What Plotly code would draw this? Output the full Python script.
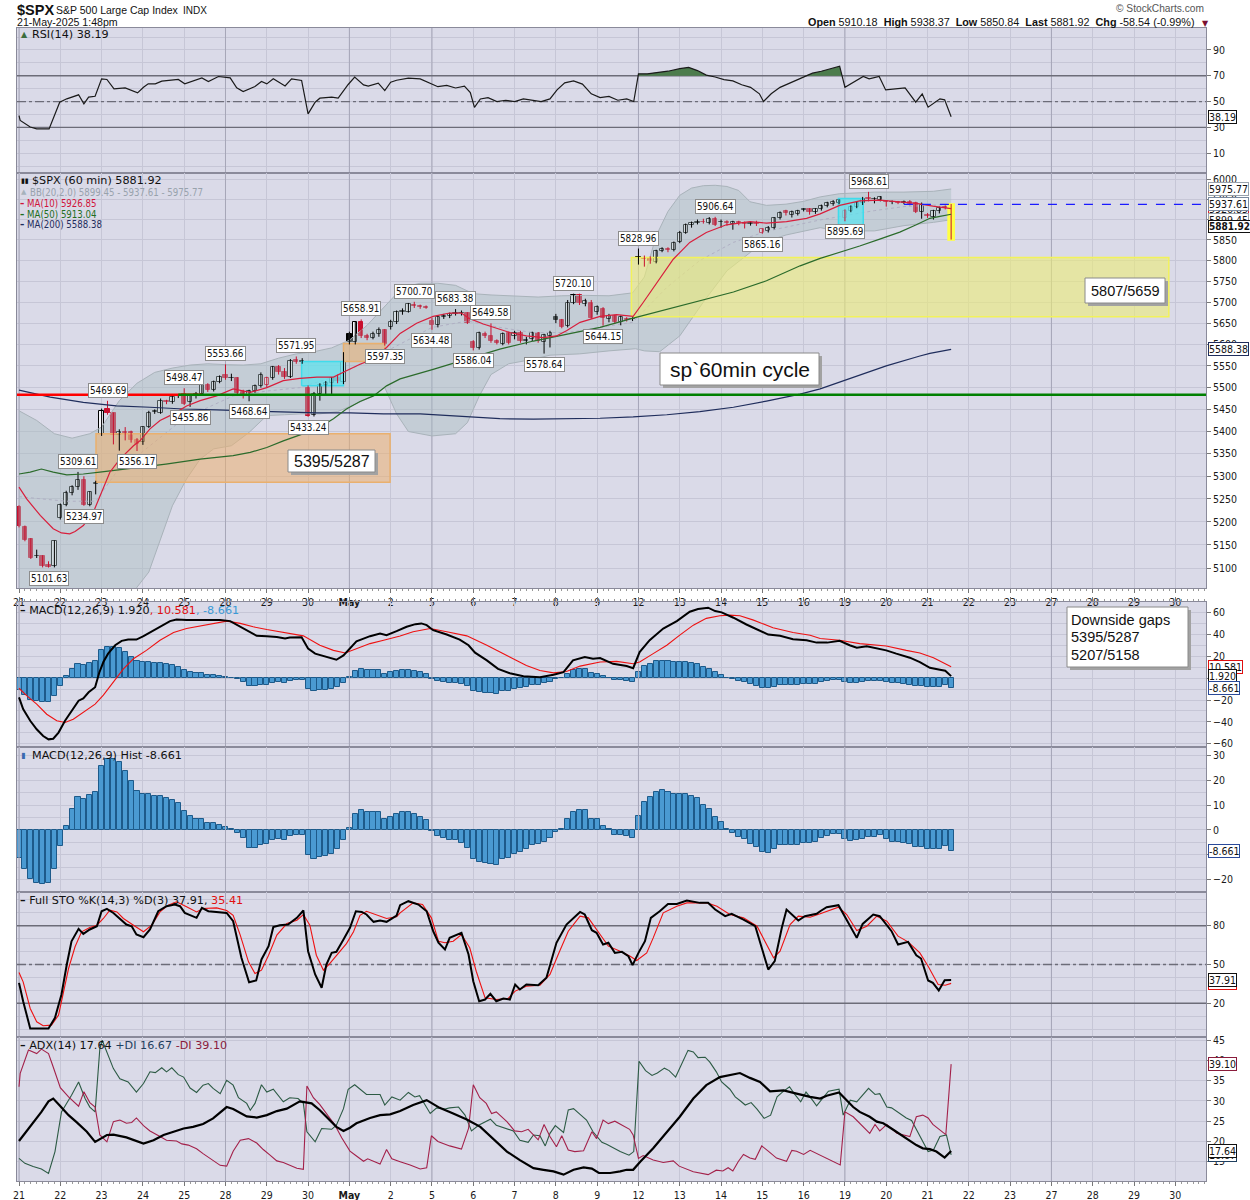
import math
import plotly.graph_objects as go

# ---------------------------------------------------------------- data
day_labels = ["21", "22", "23", "24", "25", "28", "29", "30", "May", "2", "5", "6", "7", "8", "9",
              "12", "13", "14", "15", "16", "19", "20", "21", "22", "23", "27", "28", "29", "30"]
week_start_days = [0, 5, 8, 10, 15, 20, 25]   # indices into day_labels drawn with darker grid
bars_per_day = 7

opens = [5232, 5189, 5163, 5126, 5127, 5108, 5104, 5208, 5236, 5262, 5277, 5292, 5237, 5282,
         5395, 5451, 5441, 5392, 5399, 5398, 5380, 5377, 5411, 5444, 5443, 5470, 5466, 5480,
         5486, 5466, 5480, 5485, 5506, 5494, 5513, 5529, 5521, 5521, 5490, 5483, 5492, 5504,
         5505, 5521, 5547, 5536, 5525, 5564, 5562, 5500, 5437, 5486, 5505, 5510, 5521, 5512,
         5624, 5606, 5652, 5620, 5615, 5624, 5634, 5642, 5652, 5676, 5677, 5694, 5690, 5689,
         5656, 5646, 5665, 5666, 5671, 5673, 5673, 5605, 5592, 5625, 5620, 5608, 5601, 5627,
         5620, 5628, 5609, 5612, 5626, 5606, 5620, 5664, 5658, 5643, 5699, 5718, 5696, 5699,
         5676, 5683, 5660, 5667, 5652, 5661, 5660, 5808, 5806, 5806, 5797, 5824, 5829, 5826,
         5845, 5868, 5886, 5892, 5895, 5892, 5902, 5893, 5895, 5890, 5894, 5892, 5890, 5892,
         5868, 5872, 5880, 5904, 5920, 5912, 5914, 5926, 5926, 5918, 5926, 5934, 5938, 5942,
         5904, 5922, 5932, 5940, 5953, 5950, 5948, 5945, 5943, 5943, 5944, 5944, 5940, 5919,
         5910.18, 5906, 5920, 5930, 5928]
highs = [5236, 5192, 5165, 5140, 5128, 5115, 5160, 5240, 5268, 5280, 5309.61, 5300, 5267, 5290,
         5452, 5469.69, 5443, 5405, 5410, 5402, 5385, 5412, 5447, 5450, 5475, 5472, 5482, 5485,
         5498.47, 5483, 5490, 5508, 5510, 5516, 5528, 5553.66, 5532, 5524, 5495, 5495, 5507, 5535,
         5525, 5550, 5552, 5545, 5566, 5571.95, 5568, 5505, 5490, 5510, 5515, 5524, 5530, 5582,
         5630, 5655, 5658.91, 5625, 5630, 5640, 5636, 5658, 5680, 5685, 5698, 5700.70, 5694, 5692,
         5662, 5668, 5672, 5675, 5683.38, 5680, 5676, 5610, 5630, 5630, 5649.58, 5612, 5628, 5630,
         5632, 5632, 5618, 5630, 5629, 5625, 5632, 5672, 5660, 5705, 5720.10, 5720, 5708, 5705,
         5692, 5688, 5672, 5670, 5668, 5664, 5664, 5828.96, 5812, 5810, 5826, 5832, 5832, 5846,
         5872, 5890, 5895, 5900, 5902, 5906, 5906.64, 5900, 5898, 5897, 5897, 5895, 5896, 5897,
         5878, 5884, 5906, 5920, 5924, 5922, 5924, 5928, 5928, 5928, 5937, 5944, 5948, 5950,
         5925, 5935, 5944, 5956, 5968.61, 5955, 5958, 5948, 5947, 5946, 5947, 5948, 5944, 5942,
         5916, 5924, 5932, 5935, 5938.37]
lows = [5188, 5158, 5120, 5122, 5102, 5101.63, 5102, 5205, 5234, 5258, 5270, 5234.97, 5234, 5260,
        5390, 5438, 5371, 5357, 5380, 5375, 5356.17, 5370, 5408, 5440, 5440, 5462, 5463, 5476,
        5460, 5455.86, 5475, 5482, 5490, 5491, 5510, 5518, 5515, 5485, 5475, 5468.64, 5488, 5500,
        5500, 5518, 5530, 5520, 5522, 5555, 5555, 5433.24, 5434, 5470, 5482, 5485, 5510, 5508,
        5600, 5600, 5615, 5610, 5612, 5618, 5597.35, 5635, 5648, 5670, 5675, 5686, 5684, 5684,
        5634.48, 5640, 5660, 5662, 5668, 5668, 5648, 5586.04, 5588, 5615, 5604, 5600, 5598, 5600,
        5612, 5604, 5600, 5608, 5604, 5578.64, 5593, 5650, 5638, 5640, 5695, 5693, 5690, 5660,
        5670, 5644.15, 5652, 5648, 5645, 5654, 5655, 5790, 5785, 5792, 5793, 5820, 5820, 5822,
        5842, 5865, 5880, 5888, 5890, 5888, 5884, 5880, 5885, 5875, 5886, 5878, 5885, 5884,
        5865.16, 5868, 5876, 5900, 5910, 5905, 5910, 5920, 5912, 5914, 5922, 5930, 5934, 5938,
        5895.69, 5918, 5928, 5936, 5945, 5940, 5945, 5932, 5938, 5938, 5938, 5935, 5916, 5902,
        5904, 5900, 5915, 5925, 5850.84]
closes = [5192, 5160, 5122, 5127, 5104, 5103, 5158, 5237, 5262, 5277, 5292, 5237, 5265, 5285,
          5447, 5441, 5392, 5398, 5397, 5380, 5373, 5411, 5443, 5446, 5470, 5468, 5478, 5482,
          5462, 5480, 5485, 5506, 5494, 5513, 5524, 5521, 5523, 5488, 5482, 5492, 5504, 5529,
          5521, 5547, 5535, 5524, 5562, 5558, 5560, 5436, 5486, 5507, 5511, 5521, 5515, 5560,
          5606, 5652, 5620, 5615, 5624, 5633, 5600, 5653, 5677, 5678, 5695, 5690, 5688, 5687,
          5645, 5665, 5668, 5671, 5673, 5674, 5651, 5592, 5626, 5620, 5607, 5603, 5625, 5604,
          5628, 5608, 5611, 5626, 5608, 5622, 5626, 5658, 5642, 5699, 5718, 5697, 5702, 5663,
          5688, 5662, 5667, 5652, 5664, 5658, 5659, 5805, 5804, 5798, 5824, 5827, 5825, 5843,
          5868, 5886, 5892, 5894, 5893, 5902, 5886, 5895, 5892, 5894, 5891, 5890, 5892, 5889,
          5876, 5880, 5904, 5917, 5915, 5918, 5920, 5924, 5918, 5925, 5934, 5940, 5944, 5948,
          5922, 5932, 5940, 5952, 5950, 5951, 5955, 5943, 5944, 5942, 5942, 5938, 5918, 5937,
          5909, 5920, 5929, 5928, 5881.92]

ma10_pts = [(0, 5276), (1.3, 5250), (3.6, 5214), (5.8, 5185), (7.2, 5176), (8.6, 5174), (9.5, 5179),
            (10.9, 5192), (12.6, 5221), (13.7, 5257), (15.4, 5309), (17.1, 5338), (19.4, 5368),
            (20.5, 5379), (22.2, 5406), (23.9, 5425), (26.2, 5440), (28.4, 5458), (30.7, 5470),
            (33.5, 5481), (36.3, 5497), (39.2, 5489), (42.0, 5500), (44.8, 5516), (47.6, 5521),
            (50.5, 5524), (53.3, 5524), (55.5, 5539), (57.8, 5554), (60.1, 5566), (62.3, 5593),
            (64.6, 5626), (67.4, 5650), (70.2, 5666), (73.0, 5674), (75.0, 5674), (76.2, 5662),
            (78.7, 5648), (81.5, 5636), (83.2, 5628), (86.0, 5620), (88.9, 5616), (91.1, 5620),
            (92.8, 5632), (95.1, 5652), (98.5, 5666), (101.3, 5670), (104.1, 5666), (105.8, 5699),
            (108.1, 5747), (110.9, 5803), (113.7, 5844), (116.5, 5868), (119.9, 5887), (123.9, 5895),
            (126.7, 5891), (130.1, 5895), (133.5, 5903), (135.8, 5914), (139.1, 5935), (142.5, 5946),
            (145.9, 5948), (149.3, 5944), (152.1, 5940), (154.9, 5933), (158.0, 5926.85)]
ma50_pts = [(0, 5305), (1.9, 5309), (3.8, 5316), (5.8, 5309), (8.1, 5303), (10.9, 5305), (13.7, 5309),
            (19.4, 5318), (24.9, 5327), (30.7, 5338), (36.3, 5346), (39.2, 5353), (42.0, 5364),
            (44.8, 5379), (47.6, 5392), (50.5, 5406), (53.3, 5429), (55.5, 5451), (57.8, 5468),
            (60.1, 5481), (62.3, 5504), (64.6, 5520), (70.2, 5542), (75.9, 5566), (81.5, 5589),
            (87.2, 5608), (92.8, 5624), (98.5, 5640), (104.1, 5662), (109.8, 5683), (115.4, 5703),
            (121.1, 5724), (126.7, 5751), (132.4, 5787), (135.8, 5805), (139.1, 5819), (142.5, 5835),
            (145.9, 5852), (149.3, 5869), (152.1, 5887), (154.4, 5903), (156.1, 5908), (158.0, 5913.04)]
ma200_pts = [(0, 5494), (5.3, 5478), (10.9, 5466), (16.5, 5458), (22.2, 5455), (27.9, 5451), (33.5, 5449),
             (39.2, 5447), (44.8, 5445), (50.5, 5442), (56.1, 5442), (61.8, 5440), (68, 5440),
             (75.9, 5433), (81.5, 5429), (87.2, 5428), (92.8, 5429), (98.5, 5430), (104.1, 5433),
             (109.8, 5438), (115.4, 5445), (121.1, 5455), (126.7, 5469), (132.4, 5485), (135.8, 5497),
             (141.4, 5524), (147.0, 5550), (152.7, 5573), (154.4, 5579), (158.0, 5588.38)]
bb_up_pts = [(0, 5447), (3, 5425), (6, 5395), (9, 5385), (12, 5395), (14, 5410), (17, 5470), (20, 5510),
             (23, 5535), (26, 5545), (29, 5552), (32, 5555), (35, 5553), (38, 5552), (41, 5555),
             (44, 5568), (47, 5578), (50, 5583), (53, 5592), (56, 5610), (59, 5645), (62, 5690),
             (65, 5735), (68, 5745), (71, 5745), (74, 5740), (77, 5720), (80, 5717), (84, 5715),
             (88, 5712), (92, 5715), (96, 5716), (100, 5715), (104, 5722), (106, 5760), (108, 5860),
             (110, 5920), (112, 5960), (114, 5978), (116, 5984), (118, 5985), (120, 5982), (122, 5972),
             (123.9, 5944), (126.7, 5935), (130, 5938), (133, 5945), (135.8, 5956), (139.1, 5964),
             (145, 5968), (150, 5968), (155, 5970), (158, 5975.77)]
bb_lo_pts = [(0, 5000), (10, 5000), (18, 5010), (20, 5060), (22, 5092), (24, 5163), (26, 5235),
             (28.4, 5294), (30.7, 5338), (33, 5361), (36, 5368), (39, 5398), (42, 5436), (45, 5438),
             (48, 5440), (51, 5440), (54, 5445), (57, 5462), (60, 5481), (62, 5500), (64, 5440),
             (66, 5400), (70, 5390), (74, 5395), (76, 5420), (78, 5480), (80, 5530), (83, 5555),
             (87, 5565), (90, 5575), (95, 5578), (100, 5585), (104.5, 5590), (106, 5585), (108.6, 5583),
             (112, 5620), (116, 5700), (120, 5775), (124, 5820), (127, 5848), (130, 5862), (135.8, 5880),
             (139.1, 5872), (145, 5872), (150, 5885), (155, 5893), (158, 5899.45)]
bb_mid_pts = [(0, 5255), (8, 5245), (13, 5245), (16.5, 5309), (22.2, 5368), (27.9, 5429), (36.3, 5481),
              (42, 5492), (47.6, 5500), (53.3, 5524), (58.9, 5560), (64.6, 5600), (70, 5640), (76, 5655),
              (81.5, 5640), (87, 5628), (93, 5628), (98.5, 5640), (104, 5652), (109.8, 5735),
              (115.4, 5800), (121.1, 5844), (126.7, 5871), (135.8, 5899), (145, 5922), (150, 5932),
              (158, 5937.61)]

rsi_pts = [(0, 39.1), (0.2, 35.3), (1.9, 30.2), (3.0, 28.8), (4.1, 28.8), (5.1, 28.8), (6.9, 49.5),
           (8.1, 52.1), (10.1, 55.2), (11.0, 48.2), (11.8, 53.4), (12.9, 54.1), (14.0, 67.6), (14.9, 67.1),
           (16.1, 59.8), (18.0, 60.6), (20.1, 56.7), (21.1, 61.1), (21.9, 63.7), (23.1, 63.7), (24.2, 65.8),
           (25.6, 66.3), (27.0, 67.1), (28.1, 63.7), (29.5, 65.8), (31.0, 68.3), (32.1, 65.5), (33.8, 69.4),
           (35.8, 68.3), (36.9, 60.6), (38.0, 57.8), (40.0, 61.6), (41.1, 65.5), (42.0, 63.7), (43.1, 67.6),
           (45.1, 62.1), (46.2, 67.6), (47.9, 66.3), (49.0, 40.4), (50.2, 49.5), (51.0, 52.6), (53.0, 53.4),
           (54.1, 52.6), (55.8, 63.2), (56.9, 68.9), (58.4, 62.9), (59.2, 61.9), (60.9, 64.2), (62.0, 58.5),
           (63.0, 65.0), (64.0, 66.5), (66.0, 68.1), (68.0, 67.6), (69.5, 64.5), (71, 61.5), (72.5, 62.5),
           (74, 60.5), (75.5, 62), (76.5, 57), (77.2, 45.5), (78.2, 52), (79.5, 53), (81, 50), (82.5, 51),
           (84, 50), (85.5, 52), (87, 51), (88.5, 50), (90, 52), (91.2, 59), (92.5, 64.5), (94, 66),
           (95.5, 63.5), (97, 56), (98.5, 53), (100, 54), (101.5, 51), (103, 52), (104.2, 50), (105, 71.5),
           (106.5, 71.5), (108, 72.5), (110, 73.5), (112, 75.5), (113.5, 76.5), (115, 74), (116.5, 70.5),
           (118, 69), (119.5, 67), (121, 66), (122.5, 63), (124, 61), (125.5, 56), (126.2, 50),
           (127.5, 56), (129, 61), (130.5, 64), (132, 67), (133.2, 70), (134.5, 72), (136, 73.5),
           (137.5, 75.3), (139.1, 77.4), (140.0, 61.1), (143.1, 69.4), (144.1, 67.6), (145.8, 69.4),
           (146.9, 59.0), (150.2, 60.6), (152.0, 49.5), (153.1, 55.9), (154.1, 45.6), (156.1, 52.1),
           (156.9, 51.3), (158.0, 38.19)]

macd_pts = [(0, -17.5), (0.7, -28.3), (1.9, -39), (3.0, -46.8), (4.1, -52.9), (5.0, -56), (5.8, -55.4),
            (6.7, -49.8), (7.8, -39), (8.9, -29.8), (10.1, -20.6), (10.9, -18.5), (11.8, -12.9),
            (12.9, -8.3), (13.6, 5), (14.3, 14.8), (15.1, 22.5), (16.3, 30.2), (17.4, 34.2), (18.5, 35.4),
            (19.9, 35.4), (21.1, 38.5), (22.8, 44), (24.5, 49.2), (25.6, 52.3), (26.7, 53.8), (28.4, 53.2),
            (30.7, 53.2), (32.4, 53.2), (34.1, 53.2), (35.8, 52.3), (37.5, 47.1), (38.9, 42.5), (40.3, 38.8),
            (42.0, 38.5), (43.7, 37.8), (45.1, 36.3), (45.9, 37.2), (47.9, 37.5), (49.0, 27.1), (50.2, 22.5),
            (51.6, 20.3), (52.7, 18.8), (53.8, 16.9), (55.0, 20.9), (55.8, 25.5), (57.2, 33.8), (58.4, 36.3),
            (59.5, 38.5), (61.2, 40.9), (62.3, 39.4), (64.0, 43.1), (65.7, 47.1), (67.2, 49.5), (68.2, 50.2),
            (69.1, 48.6), (70.2, 44), (72.5, 40), (74.7, 35.4), (76.2, 30.2), (77.3, 23.4), (79.3, 16.3),
            (81.2, 8.6), (83.2, 4.6), (85.5, 1.8), (88.3, 0.9), (90.6, 3.1), (92.3, 5.5), (93.9, 16.3),
            (95.9, 19.4), (97.3, 17.8), (98.5, 18.5), (100.7, 13.2), (103.0, 11.1), (104.1, 9.2),
            (105.2, 24), (106.9, 34.8), (109.2, 45.5), (111.5, 52.3), (113.7, 60.9), (115.1, 63.4),
            (116.8, 64.6), (118.0, 61.5), (119.1, 60.3), (121.1, 55.4), (123.3, 49.2), (125.6, 43.1),
            (127.0, 40), (129.0, 38.8), (131.2, 35.7), (133.5, 34.8), (135.2, 32.6), (137.0, 32.6),
            (138.0, 33.2), (139.1, 34.2), (140.8, 30.2), (142.0, 28), (143.7, 29.2), (145.4, 27.1),
            (147.0, 25.5), (148.7, 22.5), (151.0, 18.8), (152.7, 14.8), (154.4, 9.5), (156.1, 7.7),
            (157.0, 6.8), (158.0, 1.92)]
signal_pts = [(0, -9.2), (1.3, -16), (3.0, -23.7), (4.7, -33), (6.4, -39), (7.8, -40.6), (9.2, -37.5),
              (10.9, -31.4), (12.9, -23.7), (14.3, -15.4), (16.0, -3.7), (17.7, 8.6), (19.4, 17.8),
              (21.6, 25.5), (23.9, 34.8), (26.2, 41.8), (28.4, 45.5), (30.7, 48), (32.9, 50.2), (35.2, 52.3),
              (37.5, 50.2), (39.7, 47.1), (42.0, 44.6), (44.2, 42.5), (46.5, 40), (48.2, 38.8), (51.0, 30.2),
              (53.3, 25.5), (55.3, 23.1), (57.2, 27.1), (59.5, 31.7), (61.8, 34.8), (64.6, 38.6),
              (66.8, 42.5), (69.7, 45.5), (72.5, 42.5), (75.9, 38.8), (79.3, 30.2), (82.7, 20.9),
              (86.0, 11.7), (88.3, 7.1), (90.6, 4.9), (92.8, 6.2), (95.1, 11.1), (98.5, 14.8), (101.3, 15.4),
              (104.1, 13.2), (105.2, 14.8), (107.5, 22.5), (109.8, 30.2), (112.0, 39.4), (114.3, 48.6),
              (116.5, 54.8), (118.8, 57.2), (120.5, 57.8), (122.2, 57.2), (124.5, 53.2), (127.8, 46.2),
              (131.2, 41.8), (134.1, 39.4), (135.8, 36.3), (139.1, 34.8), (142.5, 31.7), (147.0, 29.5),
              (150.4, 25.5), (152.7, 23.1), (155.0, 18.8), (158.0, 10.581)]
hist_vals = [-11.2, -15.7, -20.0, -21.3, -22.0, -21.6, -15.9, -6.7, 1.6, 8.4,
             13.1, 12.4, 14.2, 15.5, 25.9, 28.6, 28.6, 27.3, 23.9, 19.8,
             15.8, 14.4, 14.4, 13.5, 13.8, 12.8, 12.0, 10.7, 7.7, 5.7,
             4.6, 4.6, 2.6, 2.6, 2.0, 1.2, 0.3, -1.1, -3.1, -7.2,
             -7.2, -6.2, -5.8, -4.0, -3.5, -4.0, -2.4, -2.0, -2.0, -10.3,
             -11.6, -10.9, -10.5, -9.9, -7.8, -4.0, 0.9, 6.6, 8.0, 7.4,
             7.2, 7.2, 4.3, 5.3, 6.6, 7.2, 7.4, 6.6, 5.4, 3.9,
             -0.4, -2.4, -3.4, -4.0, -4.0, -5.1, -7.2, -11.9, -13.0, -13.5,
             -13.6, -14.0, -11.9, -11.3, -9.6, -8.9, -7.8, -6.2, -5.9, -4.7,
             -3.2, -0.7, 0.3, 4.3, 7.4, 8.0, 8.0, 4.6, 4.3, 1.6,
             0.5, -1.9, -1.9, -2.4, -3.1, 5.7, 11.1, 13.1, 15.5, 16.1,
             15.5, 14.7, 14.7, 14.7, 13.8, 12.7, 10.1, 8.6, 5.4, 3.0,
             0.5, -1.1, -2.7, -3.5, -5.5, -6.9, -8.9, -9.2, -7.6, -6.2,
             -6.1, -6.1, -6.1, -5.1, -5.1, -4.9, -3.1, -2.4, -1.8, -1.8,
             -3.8, -4.5, -4.0, -3.5, -2.7, -2.7, -2.2, -3.5, -4.7, -4.7,
             -5.1, -5.8, -6.9, -6.9, -7.8, -7.8, -7.6, -6.5, -8.661]

stok_pts = [(0, 35.8), (0.7, 21.6), (1.9, 0.5), (3.0, 0.5), (5.0, 0.5), (6.1, 8.8), (7.2, 26.8), (8.1, 50),
            (8.9, 68), (10.1, 77.6), (10.9, 73.7), (12.0, 77.1), (13.2, 79.6), (14.0, 91.2), (14.9, 93),
            (16.0, 89.9), (17.1, 85.6), (18.2, 80.9), (19.1, 79.6), (19.9, 73.2), (21.1, 71.1), (22.2, 77.1),
            (23.6, 91.2), (25.0, 95.1), (26.4, 96.4), (27.3, 95.1), (28.1, 89.9), (30.1, 86.1), (31.0, 93.8),
            (32.1, 91.2), (35.2, 89.9), (36.3, 83.5), (37.7, 55.2), (39.0, 36.3), (40.2, 37.6), (41.1, 53.9),
            (42.3, 64.2), (43.1, 78.9), (44.2, 80.4), (45.6, 80.9), (47.1, 86.1), (48.2, 91.8), (49.0, 60.3),
            (50.2, 42.3), (51.3, 32), (52.1, 50), (53.0, 59), (53.8, 59.8), (55.0, 69.3), (56.1, 78.4),
            (57.1, 91.2), (58.1, 90.7), (58.9, 88.7), (60.1, 83), (61.2, 84), (62.3, 83), (64.0, 87.9),
            (64.6, 95.9), (66.0, 99), (67.7, 96.4), (69.1, 91.2), (70.2, 75.8), (71.1, 66.8), (72.2, 61.6),
            (73.0, 70.6), (75.0, 74.5), (76.2, 57.7), (77.0, 37.1), (78.0, 21.6), (79.0, 22.9), (79.9, 27.3),
            (80.9, 21.6), (82.1, 23.7), (83.2, 22.9), (84.1, 34.5), (84.9, 30.7), (86.0, 34.5), (88.0, 34),
            (89.4, 39.7), (91.1, 66.8), (92.8, 80.9), (95.1, 90.7), (95.9, 88.7), (97.1, 76.5), (97.9, 74.5),
            (99.0, 65.5), (99.9, 66.8), (101.0, 59), (102.2, 59.8), (103.3, 56.4), (104.0, 49.5), (105.0, 59),
            (106.1, 68), (107.1, 86.1), (108.6, 91.2), (110.0, 96.9), (111.5, 96.9), (113.2, 99.5),
            (115.4, 97.7), (116.8, 97.7), (118.0, 92.5), (119.7, 87.4), (120.8, 89.2), (122.8, 84.8),
            (124.8, 79.6), (126.0, 61.6), (127.0, 46.1), (128.1, 52.6), (129.3, 78.4), (130.1, 92.5),
            (132.1, 84), (133.2, 87.4), (135.2, 89.2), (135.8, 91.2), (136.9, 94.3), (138.9, 95.9),
            (140.3, 84.8), (142.0, 70.6), (143.0, 81.4), (144.8, 88.7), (145.9, 87.4), (147.9, 75.8),
            (149.0, 65.5), (150.7, 67.5), (152.1, 57.2), (152.9, 54.6), (154.1, 37.6), (154.9, 35.8),
            (155.9, 29.9), (156.9, 37.9), (158.0, 37.91)]
stod_pts = [(0, 43.8), (0.7, 36.6), (1.9, 16), (3.0, 5.7), (4.1, 2.6), (5.5, 3.1), (6.7, 10.8), (7.5, 28.9),
            (8.4, 46.9), (9.5, 63.7), (10.6, 75.3), (12.0, 78.6), (13.2, 80.4), (14.3, 85.6), (15.4, 92),
            (16.6, 90.7), (17.7, 85.6), (19.4, 80.4), (21.1, 75.3), (22.5, 80.4), (23.9, 90.7), (25.3, 95.9),
            (26.7, 98.5), (28.4, 94.6), (30.1, 90.7), (31.2, 93.3), (33.5, 93.8), (35.2, 91.8), (36.3, 88),
            (37.5, 72.7), (38.9, 52.1), (40.0, 43.1), (41.1, 45.6), (42.3, 57.2), (43.7, 72.7), (45.4, 81.7),
            (47.1, 84.3), (48.2, 88.7), (49.3, 80.4), (50.4, 57.2), (51.6, 45.6), (52.7, 50.8), (53.8, 57.2),
            (55.5, 66.2), (56.7, 75.3), (57.8, 88.1), (58.9, 91.2), (60.6, 88.1), (62.3, 85.6), (64.0, 86.9),
            (64.6, 90), (66.8, 97.7), (68.4, 96.4), (69.9, 86.1), (71.1, 68), (72.2, 66.8), (73.6, 68),
            (75.0, 73.2), (76.4, 62.9), (77.5, 44.8), (79.0, 24.2), (80.9, 22.9), (82.9, 23.7), (84.1, 29.4),
            (86.0, 33.2), (88.3, 34), (90.0, 42.3), (91.4, 57.7), (93.1, 75.8), (95.1, 87.4), (96.5, 86.1),
            (98.5, 73.2), (99.9, 64.2), (101.9, 60.3), (103.6, 56.4), (104.7, 53.1), (106.4, 59), (107.5, 70.6),
            (109.2, 90), (111.5, 95.1), (113.2, 97.7), (116.6, 97.7), (118.3, 95.1), (120.5, 88.7),
            (122.8, 86.1), (125.1, 79.6), (126.5, 66.8), (127.9, 55.2), (129.0, 60.3), (130.7, 80.9),
            (132.1, 87.4), (134.1, 86.6), (135.8, 89.2), (138.9, 94.3), (140.3, 88.7), (142.0, 76.3),
            (143.7, 79.6), (145.4, 87.4), (147.1, 83.5), (149.0, 71.9), (150.7, 67.5), (152.7, 59),
            (154.1, 48.7), (155.8, 34.5), (157.0, 34), (158.0, 35.41)]

adx_pts = [(0, 20.1), (1.0, 22), (2.4, 24.9), (3.8, 27.3), (5.0, 29.9), (5.8, 30.6), (6.9, 28.9), (8.4, 26.5),
           (9.8, 24.7), (11.5, 22.4), (12.9, 19.9), (13.7, 20.6), (14.9, 21.6), (16.0, 21.7), (18.2, 21),
           (21.1, 19.5), (22.8, 20.3), (24.5, 21.6), (26.2, 22.4), (27.9, 23.2), (29.5, 23.6), (31.2, 24.3),
           (32.9, 25.7), (35.2, 28.5), (36.3, 28), (38.6, 26.2), (40.3, 25.9), (42.0, 26.5), (43.7, 27.5),
           (45.4, 28.1), (47.6, 29.9), (49.6, 29.4), (51.0, 27.7), (52.4, 25.7), (53.8, 23.6), (55.0, 22.6),
           (56.1, 23.4), (57.2, 24.5), (58.4, 25.2), (59.5, 25.8), (61.2, 26.5), (62.9, 26.7), (64.6, 27.5),
           (66.8, 29), (69.1, 30.2), (71.3, 28.3), (73.6, 26.9), (75.9, 25.4), (78.2, 23.6), (80.4, 20.7),
           (82.7, 17.5), (84.9, 15.4), (87.2, 13.4), (88.9, 13), (90.6, 12.6), (92.3, 11.8), (94.0, 13),
           (95.7, 13.6), (97.1, 13.3), (98.3, 12.2), (100.2, 12.2), (101.9, 12.6), (103.0, 13), (104.1, 13),
           (105.3, 15), (107.5, 18.3), (109.8, 22.2), (112.0, 26.1), (114.3, 30.6), (116.5, 33.9),
           (118.8, 35.9), (121.1, 36.7), (122.2, 36.9), (123.9, 35.7), (125.6, 34.7), (127.3, 32.4),
           (129.6, 32.6), (131.8, 31.8), (134.1, 31), (135.8, 30.6), (136.9, 31.3), (139.0, 32.1),
           (140.0, 30.6), (141.4, 28.5), (142.5, 27.3), (144.2, 26.1), (145.4, 24.9), (146.5, 24.5),
           (148.2, 22.9), (150.4, 20.7), (152.1, 19.1), (153.2, 18.3), (154.4, 18.1), (155.5, 17.5),
           (156.9, 16), (158.0, 17.64)]
pdi_pts = [(0, 15.8), (1.0, 14.6), (2.4, 13.8), (3.8, 13.2), (5.0, 12.1), (6.1, 17.5), (7.2, 27.3), (8.9, 31.4),
           (10.1, 34.7), (11.2, 30.6), (12.0, 28.5), (12.9, 27.3), (13.7, 42.9), (14.1, 45), (16.0, 38),
           (17.1, 35.5), (18.5, 34.7), (19.9, 32.2), (21.1, 34.3), (22.2, 37.2), (23.1, 37), (24.2, 38.2),
           (25.0, 37.2), (25.9, 38.2), (27.0, 36.5), (27.9, 35.9), (29.0, 33.2), (30.1, 32.1), (31.2, 33.9),
           (32.1, 34.3), (32.9, 33.1), (34.1, 31.8), (35.2, 35.1), (36.3, 33.9), (37.2, 30.8), (38.6, 29.4),
           (39.2, 27.7), (40.0, 29.4), (41.1, 34), (42.0, 32.2), (43.1, 32.9), (44.8, 29.8), (45.9, 30.8),
           (47.3, 30.6), (48.2, 29.4), (48.8, 22.4), (50.2, 19.9), (51.3, 23.2), (53.0, 23), (53.8, 24),
           (55.0, 28.1), (55.8, 32.9), (56.9, 34), (58.9, 31.6), (61.2, 31.6), (62.0, 29), (63.2, 31),
           (64.6, 30.2), (66.0, 32.1), (67.1, 31), (67.9, 31.3), (69.7, 26.9), (70.8, 28.3), (72.2, 28),
           (73.0, 28.3), (74.5, 28.5), (75.6, 26.5), (76.7, 22.6), (77.9, 24), (79.9, 25.5), (80.9, 24),
           (82.7, 23.2), (83.8, 22.6), (84.9, 20.3), (86.3, 19.8), (87.2, 21.6), (88.3, 21.4), (89.2, 18.9),
           (90.0, 22), (90.9, 23.9), (92.3, 22.2), (93.1, 27.8), (94.0, 28.1), (95.1, 26.7), (96.2, 25.3),
           (97.3, 22.4), (98.8, 19.8), (99.6, 19.3), (101.9, 17.5), (103.4, 16.6), (104.2, 17.5),
           (105.1, 39.8), (106.2, 37.5), (107.3, 36.3), (108.2, 36.9), (109.4, 38.1), (110.2, 37.5),
           (111.3, 35.9), (112.2, 38.8), (113.4, 42.5), (114.3, 42.1), (115.1, 40.7), (116.3, 40.8),
           (117.1, 39.6), (118.2, 37.2), (119.1, 34.7), (120.5, 32.9), (121.4, 31), (122.3, 30), (123.1, 29),
           (124.1, 29.6), (125.1, 28), (126.3, 25.7), (127.4, 26.5), (128.5, 31), (129.4, 32.2),
           (130.6, 33.5), (131.4, 31.8), (132.5, 29.8), (133.4, 32.2), (134.5, 30.2), (135.2, 28.8),
           (135.8, 29.9), (137.2, 32.4), (139.0, 32.9), (139.7, 26.5), (140.9, 30.2), (142.0, 29.8),
           (144.0, 33.1), (145.1, 31.6), (145.9, 31.8), (147.1, 28.5), (147.9, 28.3), (150.4, 25.8),
           (151.3, 25.2), (152.7, 21.3), (154.1, 17.5), (155.0, 17.9), (156.1, 21.2), (157.2, 21.6),
           (158.0, 16.67)]
mdi_pts = [(0, 33.5), (0.2, 36.8), (1.6, 42.6), (3.0, 41.7), (3.8, 42.8), (5.0, 41.7), (5.8, 38.4), (7.0, 33.3),
           (8.4, 31), (10.1, 28.7), (11.0, 32.3), (12.0, 29.6), (12.9, 28.5), (13.7, 21.6), (14.9, 19.9),
           (16.0, 24.9), (17.1, 25.3), (18.2, 24.5), (19.1, 24.7), (19.9, 25.8), (21.1, 23.9), (22.2, 22.6),
           (23.9, 21.2), (25.0, 20.3), (26.7, 20.1), (27.6, 19.4), (28.7, 19.1), (30.1, 18.2), (31.2, 17),
           (32.9, 15.2), (34.1, 14.1), (35.2, 13.9), (36.3, 17.6), (37.5, 20.3), (38.9, 20.7), (40.3, 19.6),
           (41.4, 18), (42.5, 16.7), (43.7, 15.2), (44.8, 14.8), (45.9, 14.2), (47.1, 13.4), (48.2, 13.1),
           (48.8, 33.7), (49.9, 30.8), (51.0, 29.1), (52.4, 26.3), (53.5, 24.2), (54.7, 20.9), (56.1, 17.6),
           (57.2, 16.4), (58.4, 15.1), (59.1, 15.7), (61.2, 14.4), (62.3, 18), (63.2, 15.7), (64.6, 15),
           (66.3, 14.2), (68.0, 13.2), (69.1, 13.5), (69.9, 21.4), (71.0, 20), (73.0, 18.9), (75.0, 18.1),
           (76.2, 23.2), (77.0, 34), (78.1, 30.8), (79.2, 29.4), (80.1, 26.9), (80.9, 27.3), (82.7, 24.9),
           (84.0, 22.6), (85.2, 22.4), (86.3, 23), (88.0, 20.4), (89.0, 24.2), (90.0, 21.2), (91.1, 18.7),
           (92.0, 21.4), (93.1, 17.9), (94.2, 17.5), (95.7, 17.7), (97.1, 22.4), (97.9, 20.7), (99.0, 25.3),
           (99.9, 24.4), (101.0, 25), (102.2, 24), (103.5, 23), (104.1, 21.6), (105.0, 15.8), (105.8, 16.5),
           (107.5, 15.4), (109.2, 14.8), (110.9, 15.2), (111.9, 13.9), (114.3, 12.5), (116.8, 11.8),
           (118.2, 12.9), (119.3, 12.7), (120.2, 13.5), (121.0, 12.7), (121.9, 15), (122.8, 16.8),
           (123.9, 15.9), (124.8, 15.6), (125.9, 18.9), (127.0, 17.6), (128.4, 15.9), (130.1, 15.1),
           (131.0, 17.8), (131.8, 17.6), (133.0, 16.8), (134.1, 17.8), (135.8, 16.6), (137.5, 15.4),
           (139.2, 14.2), (140.0, 27.3), (141.4, 26.1), (144.2, 22), (145.1, 24.2), (145.9, 22.6),
           (147.1, 24.2), (148.8, 22), (151.0, 21.2), (152.1, 26.1), (153.2, 26.5), (154.1, 25.8),
           (154.9, 24.2), (157.1, 21.7), (158.0, 39.1)]

hi_labels = [(10, 5309.61), (15, 5469.69), (28, 5498.47), (35, 5553.66), (47, 5571.95), (58, 5658.91),
             (67, 5700.70), (74, 5683.38), (80, 5649.58), (94, 5720.10), (105, 5828.96), (118, 5906.64),
             (144, 5968.61)]
lo_labels = [(5, 5101.63), (11, 5234.97), (20, 5356.17), (29, 5455.86), (39, 5468.64), (49, 5433.24),
             (62, 5597.35), (70, 5634.48), (77, 5586.04), (89, 5578.64), (99, 5644.15), (126, 5865.16),
             (140, 5895.69)]

support_level = 5483.6
bb_mid_last = 5937.61
# drawn zones: (first bar, last bar, top price, bottom price, kind)
zones = [(13.05, 62.9, 5395, 5287, "orange"), (55.0, 62.0, 5602, 5560, "orange"),
         (47.9, 55.0, 5560, 5504, "cyan"), (138.9, 143.1, 5952, 5887, "cyan"),
         (103.8, 194.9, 5807, 5665, "yellow")]
price_ticks = [5100, 5150, 5200, 5250, 5300, 5350, 5400, 5450, 5500, 5550, 5600, 5650, 5700,
               5750, 5800, 5850, 5900, 5950, 6000]

# ---------------------------------------------------------------- layout helpers
W, H = 1250, 1200
PL, PR, PT, PB = 17, 1206, 28, 1181
CFONT = "DejaVu Sans Condensed, Liberation Sans Narrow, Liberation Sans, sans-serif"
VFONT = "DejaVu Sans, Verdana, sans-serif"
AFONT = "Liberation Sans, Arial, sans-serif"
BG = "#dadae8"
GRID = "#c6c6d6"
GRID_DARK = "#a6a6b8"
BORDER = "#8a8a9a"
REFLINE = "#6c6c78"


def py(y):
    return (PB - y) / (PB - PT)


def pxf(x):
    return (x - PL) / (PR - PL)


L10 = math.log10
XR = [-0.34, 201.2]
n = len(closes)
idx = list(range(n))
day_pos = [bars_per_day * k for k in range(len(day_labels))]
day_text = ["<b>May</b>" if d == "May" else d for d in day_labels]

ycfg = {
    "": dict(range=[-5.4, 107.0], tickvals=[10, 30, 50, 70, 90], minor_vals=[0, 20, 40, 60, 80, 100]),
    "2": dict(range=[3.704003, 3.779294], tickvals=price_ticks, type="log",
              ticktext=[str(v) for v in price_ticks], minor_vals=None),
    "3": dict(range=[-63.0, 69.8], tickvals=[-60, -40, -20, 0, 20, 40, 60],
              minor_vals=[-50, -30, -10, 10, 30, 50]),
    "4": dict(range=[-25.1, 33.5], tickvals=[-20, -10, 0, 10, 20, 30],
              minor_vals=[-25, -15, -5, 5, 15, 25]),
    "5": dict(range=[-6.1, 106.1], tickvals=[20, 50, 80], minor_vals=[0, 10, 30, 40, 60, 70, 90, 100]),
    "6": dict(range=[10.23, 45.8], tickvals=[15, 20, 25, 30, 35, 40, 45], minor_vals=None),
}

fig = go.Figure()


def split(pts):
    return [p[0] for p in pts], [p[1] for p in pts]


def add_line(xs, ys, k, color, width=1.0, dash=None, fill=None, fillcolor=None):
    fig.add_trace(go.Scatter(x=xs, y=ys, mode="lines", xaxis="x" + k, yaxis="y" + k,
                             line=dict(color=color, width=width, dash=dash), fill=fill,
                             fillcolor=fillcolor, hoverinfo="skip"))


def line(pts, k, color, width=1.0, dash=None):
    xs, ys = split(pts)
    add_line(xs, ys, k, color, width, dash)


def above_poly(pts, lvl):
    xs, ys = split(pts)
    ox, oy = [], []
    for k in range(len(xs)):
        if k > 0 and (ys[k - 1] - lvl) * (ys[k] - lvl) < 0:
            t = (lvl - ys[k - 1]) / (ys[k] - ys[k - 1])
            ox.append(xs[k - 1] + t * (xs[k] - xs[k - 1]))
            oy.append(lvl)
        ox.append(xs[k])
        oy.append(max(ys[k], lvl))
    return ox + [xs[-1], xs[0]], oy + [lvl, lvl]


# darker week-start grid lines, drawn first in every panel
for k, c in ycfg.items():
    lo_, hi_ = c["range"]
    if c.get("type") == "log":
        lo_, hi_ = 10 ** lo_, 10 ** hi_
    wx, wy = [], []
    for d in week_start_days:
        wx += [day_pos[d], day_pos[d], None]
        wy += [lo_, hi_, None]
    add_line(wx, wy, k, GRID_DARK, 1)

# reference levels
for k, lv, dash in (("", 70, "solid"), ("", 30, "solid"), ("", 50, "dashdot"),
                    ("5", 80, "solid"), ("5", 20, "solid"), ("5", 50, "dashdot")):
    add_line([XR[0], XR[1]], [lv, lv], k, REFLINE, 1.3, dash)

# ---- RSI panel
fx, fy = above_poly(rsi_pts, 70)
add_line(fx, fy, "", "rgba(0,0,0,0)", 0, fill="toself", fillcolor="#4c7c4c")
line(rsi_pts, "", "#1a1a1a", 1.2)

# ---- price panel
ux, uy = split(bb_up_pts)
lx, ly = split(bb_lo_pts)
add_line(ux + lx[::-1], uy + ly[::-1], "2", "rgba(0,0,0,0)", 0, fill="toself",
         fillcolor="rgba(168,188,192,0.45)")
line(bb_up_pts, "2", "#a9b3ba", 1)
line(bb_lo_pts, "2", "#a9b3ba", 1)
line(bb_mid_pts, "2", "#b0b0c4", 1, "dot")

zone_style = {"orange": ("rgba(236,176,112,0.55)", "#e9b06e"),
              "cyan": ("rgba(96,226,238,0.75)", "#3fdcec"),
              "yellow": ("rgba(236,236,118,0.6)", "#f2f25a")}
for x0, x1, top, bot, kind in zones:
    fc, lc = zone_style[kind]
    add_line([x0, x1, x1, x0, x0], [bot, bot, top, top, bot], "2", lc, 1.5, fill="toself", fillcolor=fc)

last = n - 1
add_line([last - 0.65, last + 0.65, last + 0.65, last - 0.65, last - 0.65],
         [lows[last] - 3, lows[last] - 3, highs[last] + 2, highs[last] + 2, lows[last] - 3],
         "2", "rgba(0,0,0,0)", 0, fill="toself", fillcolor="#ffff44")

# candles
prev = [opens[0]] + closes[:-1]
is_up_day = [closes[i] >= prev[i] for i in idx]
for grp, col in ((True, "#000000"), (False, "#c8102e")):
    wx, wy = [], []
    for i in idx:
        if is_up_day[i] == grp:
            wx += [i, i, None]
            wy += [lows[i], highs[i], None]
    add_line(wx, wy, "2", col, 1)
body_fill, body_line = [], []
for i in idx:
    col = "#000000" if is_up_day[i] else "#c8102e"
    body_line.append(col)
    body_fill.append("#f6f6fb" if closes[i] > opens[i] else col)
fig.add_trace(go.Bar(x=idx, y=[closes[i] - opens[i] for i in idx], base=opens, width=0.72,
                     marker=dict(color=body_fill, line=dict(color=body_line, width=1)),
                     xaxis="x2", yaxis="y2", hoverinfo="skip"))

line(ma200_pts, "2", "#1f2d5c", 1.2)
line(ma50_pts, "2", "#2b6b2b", 1.2)
line(ma10_pts, "2", "#d81e3c", 1.2)

add_line([XR[0], 31], [support_level] * 2, "2", "#ff0000", 2.5)
add_line([27, XR[1]], [support_level] * 2, "2", "#008000", 2.5)
add_line([150, XR[1]], [bb_mid_last] * 2, "2", "#1a1aff", 1.2, "dash")

# ---- MACD panel
HB = "#4a9ad2"
HBL = "#1d5a8a"
fig.add_trace(go.Bar(x=idx, y=hist_vals, width=0.86, marker=dict(color=HB, line=dict(color=HBL, width=1)),
                     xaxis="x3", yaxis="y3", hoverinfo="skip"))
line(signal_pts, "3", "#ee1111", 1.1)
line(macd_pts, "3", "#000000", 2.0)

# ---- histogram panel
fig.add_trace(go.Bar(x=idx, y=hist_vals, width=0.86, marker=dict(color=HB, line=dict(color=HBL, width=1)),
                     xaxis="x4", yaxis="y4", hoverinfo="skip"))

# ---- STO panel
line(stod_pts, "5", "#ee1111", 1.1)
line(stok_pts, "5", "#000000", 2.0)

# ---- ADX panel
line(pdi_pts, "6", "#2c5a44", 1.1)
line(mdi_pts, "6", "#a3214a", 1.1)
line(adx_pts, "6", "#000000", 2.2)

# ---------------------------------------------------------------- axes
domains = {
    "": [py(173), 1.0],
    "2": [py(588), py(173)],
    "3": [py(747), py(602)],
    "4": [py(892), py(747)],
    "5": [py(1037), py(892)],
    "6": [0.0, py(1037)],
}
tickfont = dict(size=10.5, family=CFONT, color="#1a1a1a")
layout_axes = {}
for k in domains:
    xa = dict(domain=[0, 1], anchor="y" + k, range=XR, tickvals=day_pos, ticktext=day_text,
              showticklabels=k in ("2", "6"), showgrid=True, gridcolor=GRID, zeroline=False,
              showline=True, linecolor=BORDER, mirror=True, tickfont=tickfont, fixedrange=True,
              automargin=False)
    if k in ("2", "6", "3"):
        xa.update(ticks="outside", ticklen=4, tickcolor="#777",
                  minor=dict(tickmode="linear", tick0=0, dtick=1, ticks="outside", ticklen=2,
                             tickcolor="#999"))
    if k == "3":
        xa["side"] = "top"
    layout_axes["xaxis" + k] = xa

for k, c in ycfg.items():
    ya = dict(domain=domains[k], anchor="x" + k, side="right", range=c["range"], tickvals=c["tickvals"],
              showgrid=True, gridcolor=GRID, zeroline=False, showline=True, linecolor=BORDER,
              mirror=True, ticks="outside", ticklen=4, tickcolor="#777", tickfont=tickfont,
              fixedrange=True, automargin=False)
    if "type" in c:
        ya["type"] = c["type"]
    if "ticktext" in c:
        ya["ticktext"] = c["ticktext"]
    if c["minor_vals"]:
        ya["minor"] = dict(tickmode="array", tickvals=c["minor_vals"], showgrid=True, gridcolor=GRID,
                           ticks="")
    layout_axes["yaxis" + k] = ya

# ---------------------------------------------------------------- annotations
ann = []
shapes = []


def text(x, y, s, size=11, color="#111", anchor="left", bold=False, yanchor="middle", family=VFONT):
    ann.append(dict(x=pxf(x), y=py(y), xref="paper", yref="paper", text=("<b>%s</b>" % s) if bold else s,
                    showarrow=False, xanchor=anchor, yanchor=yanchor,
                    font=dict(size=size, color=color, family=family)))


# header
text(15, 10, "$SPX", 14.5, "#111", bold=True, family=AFONT)
text(54, 10, "S&P 500 Large Cap Index", 10.5, "#111", family=AFONT)
text(181, 10.5, "INDX", 10, "#111", family=AFONT)
text(15, 22.5, "21-May-2025 1:48pm", 10.6, "#111", family=AFONT)
text(1206, 9, "© StockCharts.com", 10.2, "#555", anchor="right", family=AFONT)
text(1197, 22.5, "<b>Open</b> 5910.18  <b>High</b> 5938.37  <b>Low</b> 5850.84  <b>Last</b> 5881.92  "
                 "<b>Chg</b> -58.54 (-0.99%)", 10.8, "#111", anchor="right", family=AFONT)
text(1200, 23, "▼", 8, "#7a1030")

# panel legends
LF = 11.2
SF = 9.6
text(19, 35, "▲", 8, "#3d6e3d")
text(30, 35, "RSI(14) 38.19", LF)
text(19, 181, "▮▮", 7, "#111")
text(30, 181, "$SPX (60 min) 5881.92", LF)
text(19, 192, "▲", 7, "#a6b2bc")
text(28, 192, "BB(20,2.0) 5899.45 - 5937.61 - 5975.77", SF, "#98a2ac", family=CFONT)
text(18, 203, "<b>–</b> MA(10) 5926.85", SF, "#d0143a", family=CFONT)
text(18, 214, "<b>–</b> MA(50) 5913.04", SF, "#1e6e1e", family=CFONT)
text(18, 225, "<b>–</b> MA(200) 5588.38", SF, "#1f2d5c", family=CFONT)
text(18, 610, "<b>–</b> MACD(12,26,9) 1.920<span style='color:#e01010'>, 10.581</span>"
              "<span style='color:#3a9ad6'>, -8.661</span>", LF)
text(19, 755, "▮", 8, "#3a6ab0")
text(30, 755, "MACD(12,26,9) Hist -8.661", LF)
text(18, 900, "<b>–</b> Full STO %K(14,3) %D(3) 37.91, <span style='color:#e01010'>35.41</span>", LF)
text(18, 1045, "<b>–</b> ADX(14) 17.64 <span style='color:#1f3f5f'>+DI 16.67</span> "
               "<span style='color:#8a1c3c'>-DI 39.10</span>", LF)

# high / low labels
for i, p in hi_labels:
    ann.append(dict(x=i, y=L10(p), xref="x2", yref="y2", text="%.2f" % p, showarrow=False,
                    yanchor="bottom", yshift=3, bgcolor="white", bordercolor="#8c8c8c", borderwidth=1,
                    borderpad=1, font=dict(size=9.8, color="#111", family=CFONT)))
for i, p in lo_labels:
    ann.append(dict(x=i, y=L10(p), xref="x2", yref="y2", text="%.2f" % p, showarrow=False,
                    yanchor="top", yshift=-3, bgcolor="white", bordercolor="#8c8c8c", borderwidth=1,
                    borderpad=1, font=dict(size=9.8, color="#111", family=CFONT)))


def box(x0, y0, x1, y1):
    shapes.append(dict(type="rect", xref="paper", yref="paper", x0=pxf(x0 + 3), x1=pxf(x1 + 3),
                       y0=py(y1 + 3), y1=py(y0 + 3), fillcolor="#a2a2a2", line=dict(width=0), layer="above"))
    shapes.append(dict(type="rect", xref="paper", yref="paper", x0=pxf(x0), x1=pxf(x1),
                       y0=py(y1), y1=py(y0), fillcolor="white", line=dict(color="#8a8a8a", width=1),
                       layer="above"))


box(288, 450, 375, 472)
text(331.5, 461.5, "5395/5287", 16, "#111", anchor="center", family=AFONT)
box(1085, 278, 1165, 303)
text(1125, 291, "5807/5659", 14.5, "#111", anchor="center", family=AFONT)
box(660, 353, 819, 385)
text(739.5, 369.5, "sp`60min cycle", 21, "#111", anchor="center", family=AFONT)
box(1067, 607, 1188, 667)
text(1069, 619.5, "Downside gaps", 14.5, "#111", family=AFONT)
text(1069, 637, "5395/5287", 14.5, "#111", family=AFONT)
text(1069, 654.5, "5207/5158", 14.5, "#111", family=AFONT)


# right-hand value flags
def flag(yref, val, txt, col, bold=False, tcol="#111", size=10.5):
    ann.append(dict(x=1, xref="paper", y=val, yref=yref, text=("<b>%s</b>" % txt) if bold else txt,
                    showarrow=False, xanchor="left", xshift=2, bgcolor="white", bordercolor=col,
                    borderwidth=1, borderpad=0, font=dict(size=size, color=tcol, family=CFONT)))


flag("y", 38.19, "38.19", "#111")
flag("y2", L10(5913.04), "5913.04", "#2b6b2b")
flag("y2", L10(5926.85), "5926.85", "#d81e3c")
flag("y2", L10(5975.77), "5975.77", "#98a2ac")
flag("y2", L10(5899.45), "5899.45", "#98a2ac")
flag("y2", L10(5937.61), "5937.61", "#7a8aa0")
flag("y2", L10(5881.92), "5881.92", "#111", bold=True, size=10)
flag("y2", L10(5588.38), "5588.38", "#1f2d5c")
flag("y3", 10.581, "10.581", "#e01010")
flag("y3", 1.92, "1.920", "#111")
flag("y3", -8.661, "-8.661", "#2a4a9a")
flag("y4", -8.661, "-8.661", "#2a4a9a")
flag("y5", 35.41, "35.41", "#e01010")
flag("y5", 37.91, "37.91", "#111")
flag("y6", 39.10, "39.10", "#8a1c3c")
flag("y6", 16.67, "16.67", "#1f3f5f")
flag("y6", 17.64, "17.64", "#111")

fig.update_layout(
    width=W, height=H, margin=dict(l=PL, r=W - PR, t=PT, b=H - PB, pad=0, autoexpand=False),
    paper_bgcolor="white", plot_bgcolor=BG, showlegend=False, bargap=0, barmode="overlay",
    font=dict(family=CFONT, size=11, color="#111"),
    annotations=ann, shapes=shapes, **layout_axes,
)

fig.write_html("out.html", config={"displayModeBar": False},
               post_script="document.body.style.margin='0';")
